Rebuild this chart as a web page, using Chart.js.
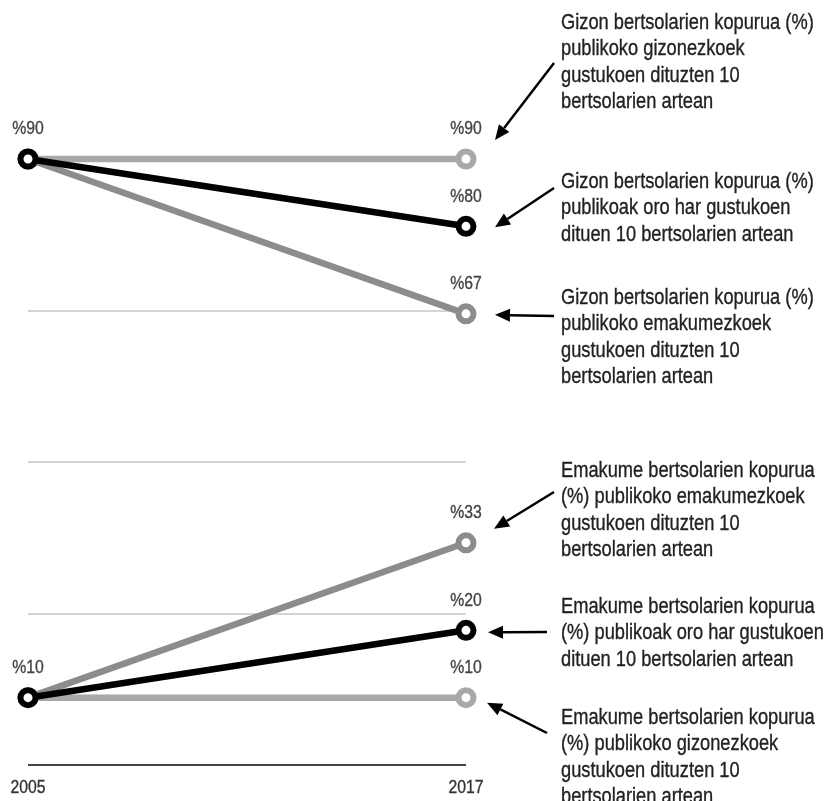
<!DOCTYPE html>
<html>
<head>
<meta charset="utf-8">
<script src="https://cdn.jsdelivr.net/npm/chart.js@4/dist/chart.umd.min.js"></script>
<style>
  html, body { margin: 0; padding: 0; background: #fff; }
  #wrap { width: 831px; height: 801px; position: relative; }
</style>
</head>
<body>
<div id="wrap"><canvas id="slopeChart"></canvas></div>
<script>
// Years on the x axis
var years = ['2005', '2017'];

// Men bertsolaris (%) among the top 10
var gizonGizonezkoek = [90, 90];
var gizonOroHar = [90, 80];
var gizonEmakumezkoek = [90, 67];

// Women bertsolaris (%) among the top 10
var emakumeEmakumezkoek = [10, 33];
var emakumeOroHar = [10, 20];
var emakumeGizonezkoek = [10, 10];

// y axis ticks (grid lines)
var yMin = 0, yMax = 90, yStep = 22.5;

// annotation texts
var noteGizonGizonezkoek = ['Gizon bertsolarien kopurua (%)', 'publikoko gizonezkoek', 'gustukoen dituzten 10', 'bertsolarien artean'];
var noteGizonOroHar = ['Gizon bertsolarien kopurua (%)', 'publikoak oro har gustukoen', 'dituen 10 bertsolarien artean'];
var noteGizonEmakumezkoek = ['Gizon bertsolarien kopurua (%)', 'publikoko emakumezkoek', 'gustukoen dituzten 10', 'bertsolarien artean'];
var noteEmakumeEmakumezkoek = ['Emakume bertsolarien kopurua', '(%) publikoko emakumezkoek', 'gustukoen dituzten 10', 'bertsolarien artean'];
var noteEmakumeOroHar = ['Emakume bertsolarien kopurua', '(%) publikoak oro har gustukoen', 'dituen 10 bertsolarien artean'];
var noteEmakumeGizonezkoek = ['Emakume bertsolarien kopurua', '(%) publikoko gizonezkoek', 'gustukoen dituzten 10', 'bertsolarien artean'];

var BLACK = '#000000';
var MID = '#8c8c8c';
var LIGHT = '#a8a8a8';
var SX = 0.83; // text is narrow in the original

function drawNarrow(ctx, text, x, y, size, color, align) {
    ctx.save();
    ctx.translate(x, y);
    ctx.scale(SX, 1);
    ctx.font = size + 'px "Liberation Sans", Arial, sans-serif';
    ctx.fillStyle = color;
    ctx.strokeStyle = color;
    ctx.lineWidth = 0.35;
    ctx.textAlign = align || 'left';
    ctx.textBaseline = 'middle';
    ctx.fillText(text, 0, 0);
    ctx.strokeText(text, 0, 0);
    ctx.restore();
}

function drawArrow(ctx, x1, y1, x2, y2) {
    var ang = Math.atan2(y2 - y1, x2 - x1);
    var headLen = 15, headW = 6.5;
    var bx = x2 - headLen * Math.cos(ang), by = y2 - headLen * Math.sin(ang);
    ctx.save();
    ctx.strokeStyle = '#000';
    ctx.fillStyle = '#000';
    ctx.lineWidth = 2.5;
    ctx.beginPath();
    ctx.moveTo(x1, y1);
    ctx.lineTo(bx, by);
    ctx.stroke();
    ctx.beginPath();
    ctx.moveTo(x2, y2);
    ctx.lineTo(bx + headW * Math.sin(ang), by - headW * Math.cos(ang));
    ctx.lineTo(bx - headW * Math.sin(ang), by + headW * Math.cos(ang));
    ctx.closePath();
    ctx.fill();
    ctx.restore();
}

function ds(data, color, order, labelFirst) {
    return {
        data: data,
        borderColor: color,
        borderWidth: 6.5,
        pointRadius: 7.5,
        pointBorderWidth: 6,
        pointBackgroundColor: '#fff',
        pointBorderColor: color,
        pointHoverRadius: 7.5,
        tension: 0,
        clip: false,
        order: order,
        labelFirst: labelFirst
    };
}

// data labels, year labels and the notes with arrows
var notesPlugin = {
    id: 'notes',
    afterDatasetsDraw: function (chart) {
        var ctx = chart.ctx;
        var xs = chart.scales.x, ys = chart.scales.y;

        chart.data.datasets.forEach(function (d, i) {
            var meta = chart.getDatasetMeta(i);
            meta.data.forEach(function (pt, j) {
                if (j === 0 && !d.labelFirst) return;
                drawNarrow(ctx, '%' + d.data[j], pt.x, pt.y - 30, 19, '#444', 'center');
            });
        });

        years.forEach(function (y, j) {
            drawNarrow(ctx, y, xs.getPixelForValue(j), ys.getPixelForValue(yMin) + 23, 19, '#333', 'center');
        });

        var notes = [
            { ds: 2, lines: noteGizonGizonezkoek, top: 23, tail: [554, 63], tip: [29, -19] },
            { ds: 0, lines: noteGizonOroHar, top: 182, tail: [554, 188], tip: [29, 1] },
            { ds: 4, lines: noteGizonEmakumezkoek, top: 298, tail: [554, 316], tip: [29, 1] },
            { ds: 5, lines: noteEmakumeEmakumezkoek, top: 471, tail: [554, 492], tip: [28, -14] },
            { ds: 1, lines: noteEmakumeOroHar, top: 607, tail: [547, 632], tip: [22, 2] },
            { ds: 3, lines: noteEmakumeGizonezkoek, top: 718, tail: [547, 733], tip: [21, 5] }
        ];
        notes.forEach(function (n) {
            n.lines.forEach(function (t, k) {
                drawNarrow(ctx, t, 561, n.top + k * 26.3, 22, '#222', 'left');
            });
            var pt = chart.getDatasetMeta(n.ds).data[1];
            drawArrow(ctx, n.tail[0], n.tail[1], pt.x + n.tip[0], pt.y + n.tip[1]);
        });
    }
};

var ctx = document.getElementById('slopeChart').getContext('2d');
var slopeChart = new Chart(ctx, {
    type: 'line',
    data: {
        labels: years,
        datasets: [
            ds(gizonOroHar, BLACK, 0, true),
            ds(emakumeOroHar, BLACK, 0, true),
            ds(gizonGizonezkoek, LIGHT, 1, false),
            ds(emakumeGizonezkoek, LIGHT, 1, false),
            ds(gizonEmakumezkoek, MID, 2, false),
            ds(emakumeEmakumezkoek, MID, 2, false)
        ]
    },
    options: {
        responsive: true,
        maintainAspectRatio: false,
        animation: false,
        layout: {
            padding: { left: 28, right: 365, top: 159, bottom: 36 }
        },
        plugins: {
            legend: { display: false },
            tooltip: { enabled: false }
        },
        scales: {
            x: {
                display: false,
                offset: false
            },
            y: {
                min: yMin,
                max: yMax,
                border: { display: false },
                ticks: { display: false, stepSize: yStep },
                grid: {
                    drawTicks: false,
                    color: function (c) {
                        if (c.tick.value === yMin) return '#444';
                        if (c.tick.value === yMax) return 'rgba(0,0,0,0)';
                        return '#d4d4d4';
                    },
                    lineWidth: 2
                }
            }
        }
    },
    plugins: [notesPlugin]
});
</script>
</body>
</html>
